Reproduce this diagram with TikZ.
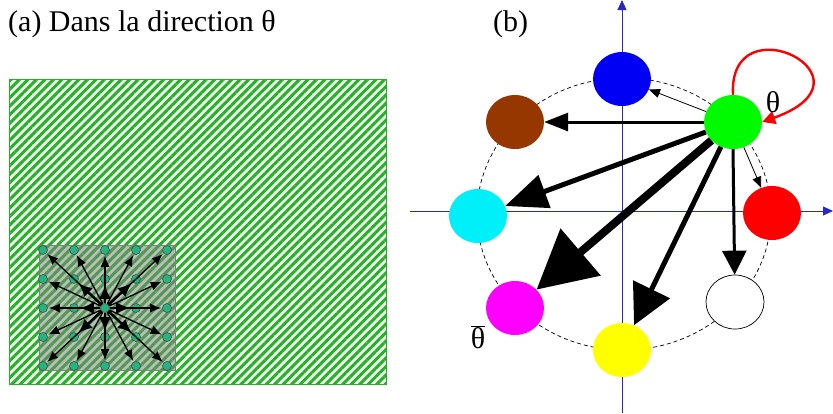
\documentclass[tikz,border=0pt]{standalone}
\usepackage{fontspec}
\setmainfont{Liberation Serif}
\usetikzlibrary{arrows.meta,shapes.geometric,patterns.meta}
\definecolor{hatchgreen}{RGB}{40,175,40}
\definecolor{dotteal}{RGB}{35,180,130}
\definecolor{axisblue}{RGB}{40,40,200}
\definecolor{spotbrown}{RGB}{150,55,0}
\definecolor{spotcyan}{RGB}{0,240,250}
\definecolor{spotmagenta}{RGB}{255,0,255}
\definecolor{spotyellow}{RGB}{255,255,0}
\definecolor{spotgreen}{RGB}{0,250,0}
\definecolor{spotblue}{RGB}{0,0,245}
\definecolor{spotred}{RGB}{255,0,0}

\begin{document}
\begin{tikzpicture}[x=1pt,y=-1pt,
  lab/.style={inner sep=0pt,font=\fontsize{30}{36}\selectfont},
  spot/.style={ellipse,minimum width=58,minimum height=54,inner sep=0pt},
  dot/.style={circle,draw=black!70,line width=0.6pt,fill=dotteal,inner sep=0pt,minimum size=9},
  ray/.style={line width=1.3pt,-{Latex[length=11pt,width=9pt]},shorten >=1pt},
  near/.style={line width=2.5pt,-{Latex[length=14pt,width=12pt]},shorten >=1pt},
  axis/.style={axisblue,line width=0.8pt,-{Triangle[length=10pt,width=9pt]}}]
\useasboundingbox (0,0) rectangle (833,413);

% (a) la grille
\node[lab,anchor=base west] (ta) at (8,31) {(a) Dans la direction θ};
\fill[green!6] (9,79) rectangle (386,384);
\draw[hatchgreen,line width=0.8pt,pattern={Lines[angle=45,distance=6pt,line width=3pt]},pattern color=hatchgreen] (9,79) rectangle (386,384);
\fill[gray,opacity=0.5] (39,245) rectangle (175,370);
\draw[gray,line width=0.8pt] (39,245) rectangle (175,370);
\foreach \i in {0,...,4}
  \foreach \j in {0,...,4}
    \node[dot] (d-\i-\j) at (43+31*\i,250+29*\j) {};
\foreach \i in {0,...,4}
  \foreach \j in {0,...,4}{
    \pgfmathtruncatemacro\dx{abs(\i-2)}
    \pgfmathtruncatemacro\dy{abs(\j-2)}
    \pgfmathtruncatemacro\far{max(\dx,\dy)}
    \ifnum\far=1 \draw[near] (d-2-2) -- (d-\i-\j);\fi
    \ifnum\far=2 \draw[ray] (d-2-2) -- (d-\i-\j);\fi
  }

% (b) les directions
\node[lab,anchor=base west] (tb) at (493,31) {(b)};
\draw[black,line width=0.7pt,dash pattern=on 4pt off 3pt] (624,214) ellipse [x radius=147, y radius=136];
\draw[axis] (622,413) -- (622,0);
\draw[axis] (410,211) -- (833,211);

\node[spot,fill=spotgreen] (g) at (733,122) {};
\node[spot,fill=spotblue] (b) at (622,79) {};
\node[spot,fill=spotbrown] (br) at (515,122) {};
\node[spot,fill=spotcyan] (c) at (478,216) {};
\node[spot,fill=spotred] (r) at (772,213) {};
\node[spot,fill=spotmagenta] (m) at (515,308) {};
\node[spot,fill=spotyellow] (y) at (622,350) {};
\node[spot,draw=black,line width=0.7pt,fill=white] (w) at (735,302) {};

\draw[line width=0.8pt,-{Triangle[length=11pt,width=9pt]}] (g) -- (b);
\draw[line width=0.8pt,-{Triangle[length=11pt,width=9pt]}] (g) -- (r);
\draw[line width=3pt,-{Triangle[length=24pt,width=18pt]}] (g) -- (br);
\draw[line width=3pt,-{Triangle[length=24pt,width=24pt]}] (g.south) -- (w);
\draw[line width=5pt,-{Triangle[length=42pt,width=34pt]}] (g) -- (c);
\draw[line width=5pt,-{Triangle[length=40pt,width=40pt]}] (g) -- (y);
\draw[line width=8pt,-{Triangle[length=58pt,width=60pt]}] (g) -- (m);

\draw[red,line width=2.4pt,-{Triangle[length=13pt,width=13pt]}] (g.north) .. controls (728,0) and (885,78) .. (g.east);
\node[lab] (th) at (773,102) {θ};
\node[lab] (thb) at (478,337) {\(\overline{\mbox{θ}}\)};
\end{tikzpicture}
\end{document}
